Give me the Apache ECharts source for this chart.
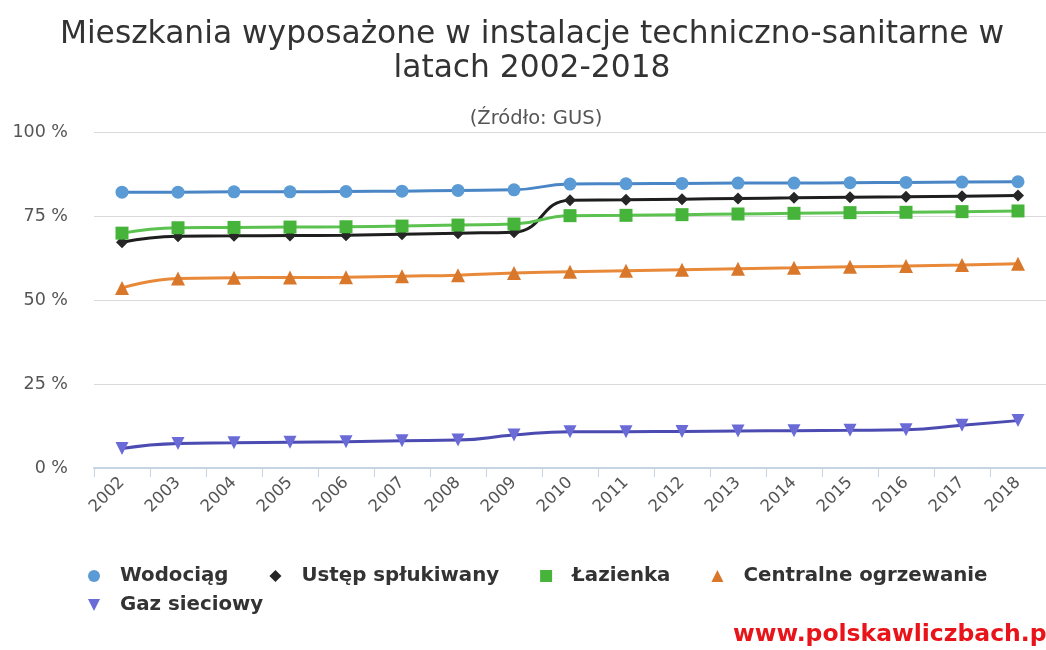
<!DOCTYPE html>
<html>
<head>
<meta charset="utf-8">
<title>Mieszkania wyposażone w instalacje techniczno-sanitarne</title>
<script src="https://cdn.jsdelivr.net/npm/echarts@6/dist/echarts.min.js"></script>
<style>
  html, body { margin: 0; padding: 0; background: #fff; }
  #chart { width: 1046px; height: 650px; }
</style>
</head>
<body>
<div id="chart"></div>
<script>
var lata = ['2002','2003','2004','2005','2006','2007','2008','2009','2010','2011','2012','2013','2014','2015','2016','2017','2018'];
var wodociag = [82.1, 82.1, 82.2, 82.2, 82.3, 82.4, 82.6, 82.8, 84.5, 84.6, 84.7, 84.8, 84.8, 84.9, 85.0, 85.1, 85.2];
var ustep = [67.2, 69.0, 69.1, 69.2, 69.3, 69.6, 69.9, 70.2, 79.7, 79.8, 80.0, 80.2, 80.4, 80.6, 80.7, 80.9, 81.1];
var lazienka = [69.9, 71.5, 71.6, 71.7, 71.8, 72.0, 72.3, 72.6, 75.1, 75.2, 75.4, 75.6, 75.8, 76.0, 76.1, 76.3, 76.5];
var ogrzewanie = [53.6, 56.4, 56.6, 56.7, 56.8, 57.1, 57.4, 58.0, 58.4, 58.7, 59.0, 59.3, 59.6, 59.9, 60.1, 60.4, 60.8];
var gaz = [5.8, 7.3, 7.5, 7.7, 7.8, 8.1, 8.3, 9.8, 10.8, 10.8, 10.9, 11.0, 11.1, 11.2, 11.4, 12.7, 14.1];

var trojkatDol = 'path://M0,0 L10,0 L5,10 Z';

function seria(nazwa, dane, kolorLinii, kolorZnaku, symbol, rozmiar){
  return {
    name: nazwa,
    type: 'line',
    smooth: true,
    data: dane,
    symbol: symbol,
    symbolSize: rozmiar,
    lineStyle: { width: 3, color: kolorLinii },
    itemStyle: { color: kolorZnaku }
  };
}

// wspolny styl legendy (dwa wiersze = dwie legendy)
function legenda(top, dane){
  return {
    left: 83,
    top: top,
    itemGap: 41,
    itemWidth: 12,
    itemHeight: 12,
    textStyle: { fontFamily: 'DejaVu Sans', fontSize: 19.8, fontWeight: 'bold', color: '#333', padding: [0, 0, 0, 15] },
    data: dane
  };
}

function wykres(){
  var dom = document.getElementById('chart');
  var chart = echarts.init(dom);
  var option;

option = {
  animation: false,
  title: [
    {
      text: 'Mieszkania wyposażone w instalacje techniczno-sanitarne w\nlatach 2002-2018',
      left: 527,
      textAlign: 'center',
      top: 13,
      textStyle: { fontFamily: 'DejaVu Sans', fontSize: 31.3, fontWeight: 'normal', color: '#333', lineHeight: 34 }
    },
    {
      text: '(Źródło: GUS)',
      left: 531,
      textAlign: 'center',
      top: 104,
      textStyle: { fontFamily: 'DejaVu Sans', fontSize: 19.5, fontWeight: 'normal', color: '#555' }
    }
  ],
  legend: [
    legenda(561, [
      { name: 'Wodociąg', icon: 'circle' },
      { name: 'Ustęp spłukiwany', icon: 'diamond' },
      { name: 'Łazienka', icon: 'rect' },
      { name: 'Centralne ogrzewanie', icon: 'triangle' }
    ]),
    legenda(590, [{ name: 'Gaz sieciowy', icon: trojkatDol }])
  ],
  grid: {
    left: 94,
    right: -8,
    top: 132,
    bottom: 182
  },
  xAxis: {
    type: 'category',
    data: lata,
    boundaryGap: true,
    axisLine: { lineStyle: { color: '#c5d3e2', width: 2 } },
    axisTick: { show: true, length: 9, lineStyle: { color: '#c5d3e2' } },
    axisLabel: { rotate: 45, margin: 12, fontFamily: 'DejaVu Sans', fontSize: 16.5, color: '#555' }
  },
  yAxis: {
    type: 'value',
    min: 0,
    max: 100,
    interval: 25,
    axisLine: { show: false },
    axisTick: { show: false },
    axisLabel: { formatter: '{value} %', margin: 26, fontFamily: 'DejaVu Sans', fontSize: 17.5, color: '#555' },
    splitLine: { lineStyle: { color: '#d9d9d9' } }
  },
  graphic: [
    {
      type: 'text',
      left: 733,
      top: 623,
      style: { text: 'www.polskawliczbach.pl', fontFamily: 'DejaVu Sans', fontSize: 23.5, fontWeight: 'bold', fill: '#e8141a' }
    }
  ],
  series: [
    seria('Wodociąg', wodociag, '#4a86c5', '#5b9bd5', 'circle', 13),
    seria('Ustęp spłukiwany', ustep, '#1e1e1e', '#262626', 'diamond', 12),
    seria('Łazienka', lazienka, '#5cc24f', '#46b43a', 'rect', 13),
    seria('Centralne ogrzewanie', ogrzewanie, '#e8893a', '#d9772a', 'triangle', 14),
    seria('Gaz sieciowy', gaz, '#4b4bb2', '#6b6bd8', trojkatDol, 13)
  ]
};
  chart.setOption(option);
}
wykres();
</script>
</body>
</html>
